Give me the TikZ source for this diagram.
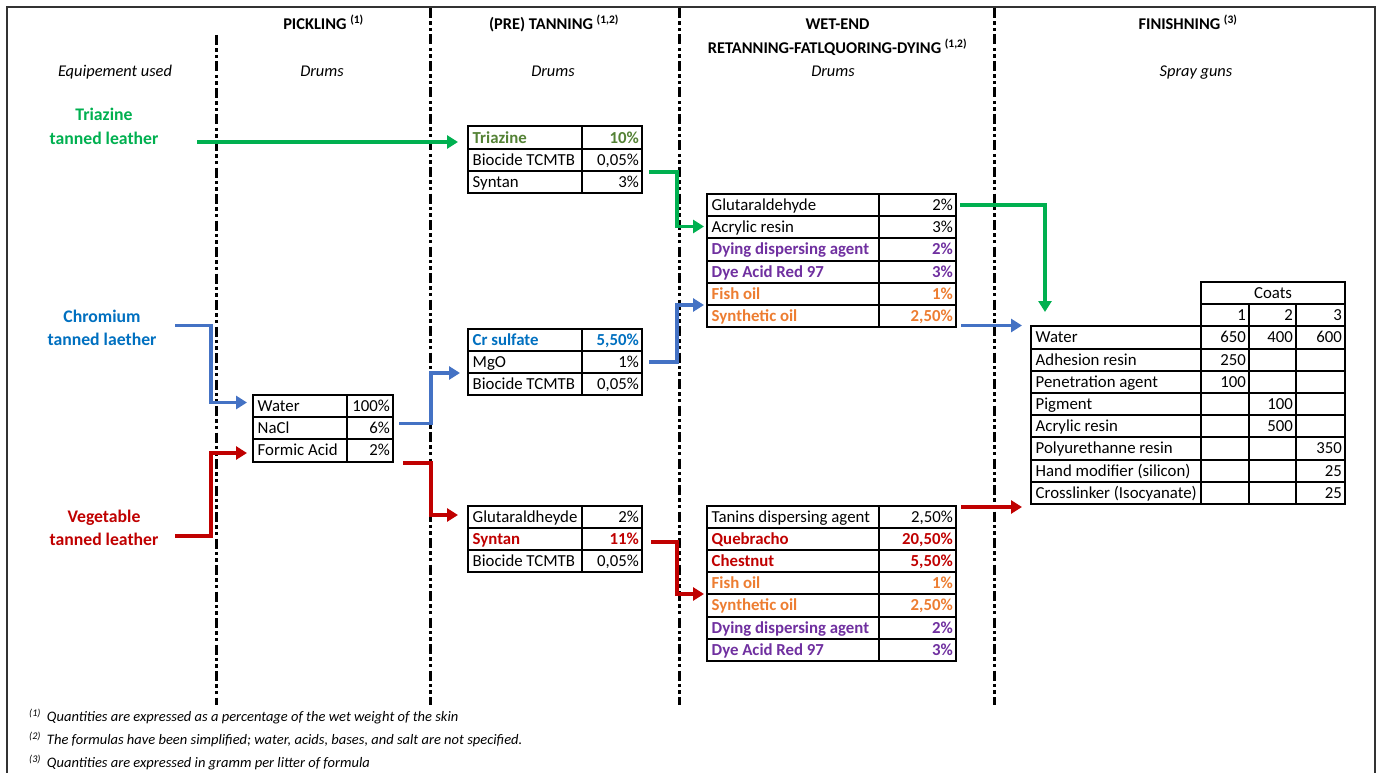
\documentclass[tikz,border=0pt]{standalone}
\usepackage{fontspec}
\setmainfont{Carlito}
\usetikzlibrary{arrows.meta}
\definecolor{cg}{HTML}{00B050}
\definecolor{cb}{HTML}{4472C4}
\definecolor{cr}{HTML}{C00000}
\definecolor{lblue}{HTML}{0070C0}
\definecolor{olive}{HTML}{548235}
\definecolor{purp}{HTML}{7030A0}
\definecolor{orng}{HTML}{ED7D31}
\newcommand\tabfont{\fontsize{16.8}{19}\selectfont}
\newcommand\hdfont{\fontsize{16.4}{19}\selectfont}
\newcommand\lbfont{\fontsize{17.7}{21}\selectfont}
\newcommand\ftfont{\fontsize{14.5}{17}\selectfont}
\newcounter{nd}
\tikzset{
  tabline/.style={draw=black, line width=2pt},
  lcell/.style={anchor=base west, inner sep=0pt, xshift=4.5pt, font=\tabfont},
  rcell/.style={anchor=base east, inner sep=0pt, xshift=-3pt, font=\tabfont},
  ccell/.style={anchor=base, inner sep=0pt, font=\tabfont},
  arr/.style={line width=3.8pt, -{Triangle[length=11pt,width=13pt]}},
  vsep/.style={line width=3pt, dash pattern=on 10pt off 3.3pt on 3.3pt off 3.3pt on 3.3pt off 3.3pt},
  hd/.style={anchor=base, inner sep=0pt, font=\hdfont\bfseries},
  it/.style={anchor=base, inner sep=0pt, font=\hdfont\itshape},
  lab/.style={anchor=base, inner sep=0pt, font=\lbfont\bfseries},
  fnote/.style={anchor=base west, inner sep=0pt, font=\ftfont\itshape},
  frame/.style={draw=black!80, line width=2.2pt},
  bk/.style={},
}
% two column row: L, S, R, top, left text, right text, style
\newcommand\trow[7]{%
  \draw[tabline] (#1,#4) rectangle (#2,#4+22.2) rectangle (#3,#4);
  \stepcounter{nd}%
  \node[lcell,#7] (c\arabic{nd}a) at (#1,#4+16.5) {#5};
  \node[rcell,#7] (c\arabic{nd}b) at (#3,#4+16.5) {#6};
}
% finishing row: top, name, c1, c2, c3
\newcommand\frow[5]{%
  \draw[tabline] (1031,#1) rectangle (1201,#1+22.2) rectangle (1249,#1) rectangle (1296,#1+22.2) rectangle (1345,#1);
  \stepcounter{nd}%
  \node[lcell] (f\arabic{nd}a) at (1031,#1+16.5) {#2};
  \node[rcell] (f\arabic{nd}b) at (1249,#1+16.5) {#3};
  \node[rcell] (f\arabic{nd}c) at (1296,#1+16.5) {#4};
  \node[rcell] (f\arabic{nd}d) at (1345,#1+16.5) {#5};
}
\begin{document}
\begin{tikzpicture}[x=1pt,y=-1pt]
\useasboundingbox (0,0) rectangle (1378,773);
\fill[white] (0,0) rectangle (1378,773);
\draw[frame] (7,773) -- (7,7) -- (1375,7) -- (1375,773);

% separators
\draw[vsep] (216,35) -- (216,705);
\draw[vsep] (430,8) -- (430,705);
\draw[vsep] (679,8) -- (679,705);
\draw[vsep] (994,8) -- (994,705);

% headers
\node[hd] (hpick) at (323.5,29.5) {PICKLING \textsuperscript{(1)}};
\node[hd] (htan) at (554,29.5) {(PRE) TANNING \textsuperscript{(1,2)}};
\node[hd] (hwet) at (837.5,29.5) {WET-END};
\node[hd] (hret) at (837.5,54) {RETANNING-FATLQUORING-DYING \textsuperscript{(1,2)}};
\node[hd] (hfin) at (1188,29.5) {FINISHNING \textsuperscript{(3)}};
\node[it] (eq) at (115,77) {Equipement used};
\node[it] (d1) at (322,77) {Drums};
\node[it] (d2) at (553,77) {Drums};
\node[it] (d3) at (833,77) {Drums};
\node[it] (sg) at (1196,77) {Spray guns};

% left labels
\node[lab,text=cg] (tri1) at (104,121) {Triazine};
\node[lab,text=cg] (tri2) at (104,144) {tanned leather};
\node[lab,text=lblue] (chr1) at (102,322) {Chromium};
\node[lab,text=lblue] (chr2) at (102,345.5) {tanned laether};
\node[lab,text=cr] (veg1) at (104,522) {Vegetable};
\node[lab,text=cr] (veg2) at (104,545) {tanned leather};

% pickling
\trow{253}{347}{393}{395}{Water}{100\%}{bk}
\trow{253}{347}{393}{417.2}{NaCl}{6\%}{bk}
\trow{253}{347}{393}{439.4}{Formic Acid}{2\%}{bk}

% pre tanning triazine
\trow{468}{582}{642}{126.5}{Triazine}{10\%}{text=olive,font=\tabfont\bfseries}
\trow{468}{582}{642}{148.7}{Biocide TCMTB}{0,05\%}{bk}
\trow{468}{582}{642}{170.9}{Syntan}{3\%}{bk}

% pre tanning chromium
\trow{468}{582}{642}{328.5}{Cr sulfate}{5,50\%}{text=lblue,font=\tabfont\bfseries}
\trow{468}{582}{642}{350.7}{MgO}{1\%}{bk}
\trow{468}{582}{642}{372.9}{Biocide TCMTB}{0,05\%}{bk}

% pre tanning vegetable
\trow{468}{582}{642}{505.5}{Glutaraldheyde}{2\%}{bk}
\trow{468}{582}{642}{527.7}{Syntan}{11\%}{text=cr,font=\tabfont\bfseries}
\trow{468}{582}{642}{549.9}{Biocide TCMTB}{0,05\%}{bk}

% wet end top
\trow{707}{879}{956}{194}{Glutaraldehyde}{2\%}{bk}
\trow{707}{879}{956}{216.2}{Acrylic resin}{3\%}{bk}
\trow{707}{879}{956}{238.4}{Dying dispersing agent}{2\%}{text=purp,font=\tabfont\bfseries}
\trow{707}{879}{956}{260.6}{Dye Acid Red 97}{3\%}{text=purp,font=\tabfont\bfseries}
\trow{707}{879}{956}{282.8}{Fish oil}{1\%}{text=orng,font=\tabfont\bfseries}
\trow{707}{879}{956}{305}{Synthetic oil}{2,50\%}{text=orng,font=\tabfont\bfseries}

% wet end bottom
\trow{707}{879}{956}{505.5}{Tanins dispersing agent}{2,50\%}{bk}
\trow{707}{879}{956}{527.7}{Quebracho}{20,50\%}{text=cr,font=\tabfont\bfseries}
\trow{707}{879}{956}{549.9}{Chestnut}{5,50\%}{text=cr,font=\tabfont\bfseries}
\trow{707}{879}{956}{572.1}{Fish oil}{1\%}{text=orng,font=\tabfont\bfseries}
\trow{707}{879}{956}{594.3}{Synthetic oil}{2,50\%}{text=orng,font=\tabfont\bfseries}
\trow{707}{879}{956}{616.5}{Dying dispersing agent}{2\%}{text=purp,font=\tabfont\bfseries}
\trow{707}{879}{956}{638.7}{Dye Acid Red 97}{3\%}{text=purp,font=\tabfont\bfseries}

% finishing table
\draw[tabline] (1201,282) rectangle (1345,304.2);
\node[ccell] (coats) at (1273,282+16.5) {Coats};
\draw[tabline] (1201,304.2) rectangle (1249,326.4) rectangle (1296,304.2) rectangle (1345,326.4);
\node[rcell] (k1) at (1249,304.2+16.5) {1};
\node[rcell] (k2) at (1296,304.2+16.5) {2};
\node[rcell] (k3) at (1345,304.2+16.5) {3};
\frow{326.4}{Water}{650}{400}{600}
\frow{348.6}{Adhesion resin}{250}{}{}
\frow{370.8}{Penetration agent}{100}{}{}
\frow{393}{Pigment}{}{100}{}
\frow{415.2}{Acrylic resin}{}{500}{}
\frow{437.4}{Polyurethanne resin}{}{}{350}
\frow{459.6}{Hand modifier (silicon)}{}{}{25}
\frow{481.8}{Crosslinker (Isocyanate)}{}{}{25}

% connector end points
\coordinate (g1s) at (197,142);   \coordinate (g1e) at (458,142);
\coordinate (g2s) at (649,172);   \coordinate (g2m) at (677,200); \coordinate (g2e) at (704,226.5);
\coordinate (g3s) at (960,205);   \coordinate (g3e) at (1045,312);
\coordinate (b1s) at (175,325.5); \coordinate (b1m) at (211,360); \coordinate (b1e) at (247,402.5);
\coordinate (b2s) at (399,423.5); \coordinate (b2m) at (431,400); \coordinate (b2e) at (460,373);
\coordinate (b3s) at (649,362);   \coordinate (b3m) at (677,330); \coordinate (b3e) at (704,305);
\coordinate (b4s) at (961,325.5); \coordinate (b4e) at (1022,325.5);
\coordinate (r1s) at (175,536);   \coordinate (r1m) at (211,500); \coordinate (r1e) at (247,453);
\coordinate (r2s) at (403,463);   \coordinate (r2m) at (431,490); \coordinate (r2e) at (458,515);
\coordinate (r3s) at (651,542);   \coordinate (r3m) at (677,570); \coordinate (r3e) at (704,594);
\coordinate (r4s) at (961,507);   \coordinate (r4e) at (1022,507);

\draw[arr,cg] (g1s) -- (g1e);
\draw[arr,cg] (g2s) -| (g2m) |- (g2e);
\draw[arr,cg] (g3s) -| (g3e);
\draw[arr,cb] (b1s) -| (b1m) |- (b1e);
\draw[arr,cb] (b2s) -| (b2m) |- (b2e);
\draw[arr,cb] (b3s) -| (b3m) |- (b3e);
\draw[arr,cb] (b4s) -- (b4e);
\draw[arr,cr] (r1s) -| (r1m) |- (r1e);
\draw[arr,cr] (r2s) -| (r2m) |- (r2e);
\draw[arr,cr] (r3s) -| (r3m) |- (r3e);
\draw[arr,cr] (r4s) -- (r4e);

% footnotes
\node[fnote] (fn1) at (29,721.5) {\textsuperscript{(1)}\hspace{6pt}Quantities are expressed as a percentage of the wet weight of the skin};
\node[fnote] (fn2) at (29,744.5) {\textsuperscript{(2)}\hspace{6pt}The formulas have been simplified; water, acids, bases, and salt are not specified.};
\node[fnote] (fn3) at (29,767.5) {\textsuperscript{(3)}\hspace{6pt}Quantities are expressed in gramm per litter of formula};
\end{tikzpicture}
\end{document}
